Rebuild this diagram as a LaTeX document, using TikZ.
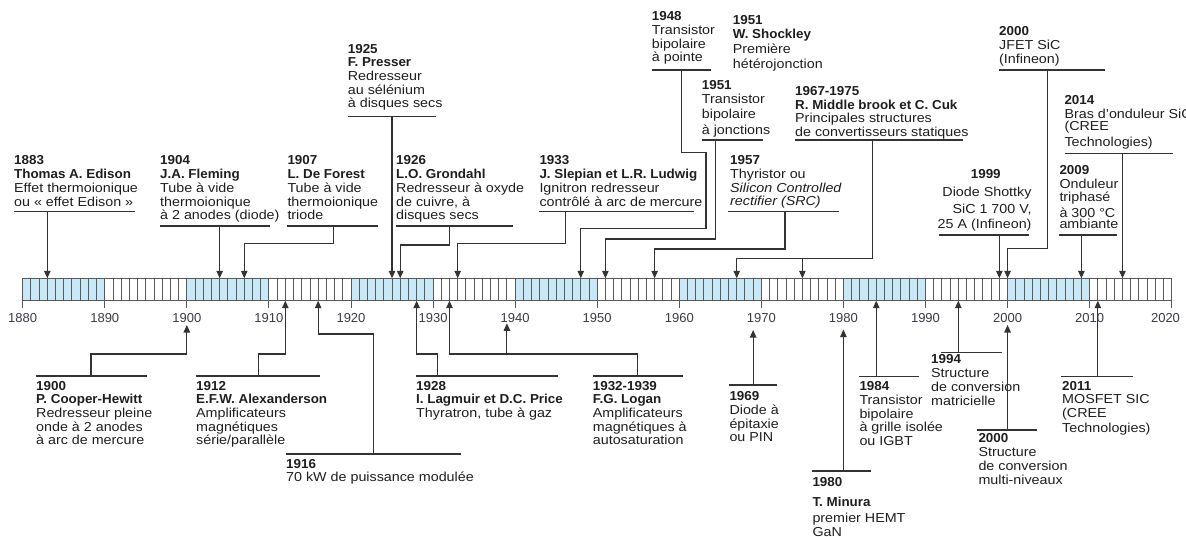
\documentclass[tikz,border=0pt]{standalone}
\usepackage{fontspec}
\setmainfont{Liberation Sans}[FakeStretch=1.10, BoldFont={Liberation Sans Bold}, BoldFeatures={FakeStretch=1.03}]
\newfontfamily\yrfont{Liberation Sans}
\usetikzlibrary{arrows.meta}
\definecolor{barfill}{HTML}{C8E8F8}
\definecolor{barline}{HTML}{5A5A5A}
\definecolor{linec}{HTML}{333333}
\definecolor{txt}{HTML}{1E1E1E}
\definecolor{yrc}{HTML}{3A3A48}
\newcommand\lblfont{\fontsize{13}{13.7}\selectfont}
\newcommand\X[1]{{22.7+(#1-1880)*8.2071}}
\tikzset{
  lbl/.style={anchor=base west, align=left, inner sep=0pt, font=\lblfont, text=txt},
  lblr/.style={anchor=base east, align=right, inner sep=0pt, font=\lblfont, text=txt},
  yrlbl/.style={anchor=base, inner sep=0pt, font=\yrfont\fontsize{13}{14}\selectfont, text=yrc},
  rulel/.style={draw=linec, line width=1.05pt},
  conn/.style={draw=linec, line width=1.05pt, -{Triangle[length=7.5pt,width=6.5pt]}},
  cell/.style={draw=barline, line width=0.9pt},
}
\begin{document}
\begin{tikzpicture}[x=1pt,y=-1pt]
\useasboundingbox (0,0) rectangle (1186,537);
% ---------- bar ----------
\foreach \d in {1880,1900,...,2000}{
  \fill[barfill] (\X{\d},278.3) rectangle (\X{\d+10},300.7);
}
\foreach \y in {1881,...,2019}{
  \draw[cell] (\X{\y},278.3) -- (\X{\y},300.7);
}
\foreach \d in {1880,1890,...,2010}{
  \draw[cell] (\X{\d},278.3) -- (\X{\d},308.3);
  \node[yrlbl] (yl\d) at (\X{\d},322.3) {\d};
}
\draw[cell] (\X{2020},278.3) -- (\X{2020},308.3);
\node[yrlbl] (yl2020) at (1165.5,322.3) {2020};
\draw[cell] (\X{1880},278.3) rectangle (\X{2020},300.7);

% ---------- top labels (anchored at last baseline) ----------
\node[lbl] (e1883) at (14,206.1) {\textbf{1883}\\\textbf{Thomas A. Edison}\\Effet thermoionique\\ou « effet Edison »};
\node[lbl] (e1904) at (160,219.8) {\textbf{1904}\\\textbf{J.A. Fleming}\\Tube à vide\\thermoionique\\à 2 anodes (diode)};
\node[lbl] (e1907) at (287.3,219.8) {\textbf{1907}\\\textbf{L. De Forest}\\Tube à vide\\thermoionique\\triode};
\node[lbl] (e1925) at (347.7,108) {\textbf{1925}\\\textbf{F. Presser}\\Redresseur\\au sélénium\\à disques secs};
\node[lbl] (e1926) at (396,219.8) {\textbf{1926}\\\textbf{L.O. Grondahl}\\Redresseur à oxyde\\de cuivre, à\\disques secs};
\node[lbl] (e1933) at (539.3,206.1) {\textbf{1933}\\\textbf{J. Slepian et L.R. Ludwig}\\Ignitron redresseur\\contrôlé à arc de mercure};
\node[lbl] (e1948) at (651.7,61.8) {\textbf{1948}\\Transistor\\bipolaire\\à pointe};
\node[lbl] (e1951s) at (732.7,68.3) {\textbf{1951}\\\textbf{W. Shockley}\\[1.1pt]Première\\[1.1pt]hétérojonction};
\node[lbl] (e1951t) at (701.7,134.3) {\textbf{1951}\\[0.3pt]Transistor\\[1.9pt]bipolaire\\[1.6pt]à jonctions};
\node[lbl] (e1957) at (730,205.8) {\textbf{1957}\\Thyristor ou\\\textit{Silicon Controlled}\\\textit{rectifier (SRC)}};
\node[lbl] (e1967) at (795,136.7) {\textbf{1967-1975}\\\textbf{R. Middle brook et C. Cuk}\\Principales structures\\de convertisseurs statiques};
\node[lbl] (e2000j) at (999,63.3) {\textbf{2000}\\JFET SiC\\(Infineon)};
\node[lbl] (e2014) at (1064.3,146.5) {\textbf{2014}\\Bras d’onduleur SiC\\[-1.9pt](CREE\\[2.3pt]Technologies)};
\node[lbl] (e1999y) at (970.7,178.3) {\textbf{1999}};
\node[lblr] (e1999) at (1031.7,228.3) {Diode Shottky\\[3.3pt]SiC 1 700 V,\\[0.9pt]25 A (Infineon)};
\node[lbl] (e2009) at (1059.3,228.5) {\textbf{2009}\\Onduleur\\triphasé\\[1.8pt]à 300 °C\\[-2.7pt]ambiante};

% ---------- bottom labels ----------
\node[lbl] (e1900) at (36,444.8) {\textbf{1900}\\\textbf{P. Cooper-Hewitt}\\Redresseur pleine\\onde à 2 anodes\\à arc de mercure};
\node[lbl] (e1912) at (196,444.8) {\textbf{1912}\\\textbf{E.F.W. Alexanderson}\\Amplificateurs\\magnétiques\\série/parallèle};
\node[lbl] (e1916) at (286,481.7) {\textbf{1916}\\70 kW de puissance modulée};
\node[lbl] (e1928) at (416,417.4) {\textbf{1928}\\\textbf{I. Lagmuir et D.C. Price}\\Thyratron, tube à gaz};
\node[lbl] (e1932) at (592.7,444.8) {\textbf{1932-1939}\\\textbf{F.G. Logan}\\Amplificateurs\\magnétiques à\\autosaturation};
\node[lbl] (e1969) at (729.3,441.7) {\textbf{1969}\\Diode à\\épitaxie\\ou PIN};
\node[lbl] (e1980) at (812.3,536.7) {\textbf{1980}\\[6.3pt]\textbf{T. Minura}\\[2.3pt]premier HEMT\\[0.3pt]GaN};
\node[lbl] (e1984) at (859.3,445.5) {\textbf{1984}\\Transistor\\bipolaire\\à grille isolée\\ou IGBT};
\node[lbl] (e1994) at (931,405) {\textbf{1994}\\Structure\\de conversion\\matricielle};
\node[lbl] (e2000m) at (978.3,484) {\textbf{2000}\\Structure\\de conversion\\multi-niveaux};
\node[lbl] (e2011) at (1062,432.7) {\textbf{2011}\\MOSFET SIC\\(CREE\\[1.6pt]Technologies)};

% ---------- rules (under/over lines) ----------
\draw[rulel] (14,211.7) -- (135,211.7);
\draw[rulel] (160,226) -- (270,226);
\draw[rulel] (287.3,226) -- (377.7,226);
\draw[rulel] (347.7,116.7) -- (435.7,116.7);
\draw[rulel] (396,226) -- (513.3,226);
\draw[rulel] (539.3,211.7) -- (694.3,211.7);
\draw[rulel] (651.7,70) -- (711,70);
\draw[rulel] (701.7,140) -- (763.3,140);
\draw[rulel] (728.3,211.7) -- (839.3,211.7);
\draw[rulel] (795,140) -- (963.3,140);
\draw[rulel] (999,70) -- (1105,70);
\draw[rulel] (1065,153.3) -- (1173.3,153.3);
\draw[rulel] (939.3,235) -- (1029,235);
\draw[rulel] (1059,235) -- (1117.3,235);
\draw[rulel] (36,376) -- (146.7,376);
\draw[rulel] (196,376) -- (320,376);
\draw[rulel] (286,454) -- (461,454);
\draw[rulel] (416,376) -- (558.3,376);
\draw[rulel] (592.7,376) -- (683.3,376);
\draw[rulel] (729.3,385) -- (776.7,385);
\draw[rulel] (812.3,471) -- (871,471);
\draw[rulel] (859.3,376.7) -- (919.3,376.7);
\draw[rulel] (941,352.3) -- (1001.7,352.3);
\draw[rulel] (977.3,430) -- (1037.3,430);
\draw[rulel] (1061,376.7) -- (1133.3,376.7);

% ---------- connector anchors ----------
\coordinate (u1883) at (\X{1883},211.7);  \coordinate (a1883) at (\X{1883},278.3);
\coordinate (u1904) at (\X{1904},226);    \coordinate (a1904) at (\X{1904},278.3);
\coordinate (u1907) at (333.3,226);       \coordinate (a1907) at (\X{1907},278.3);
\coordinate (u1925) at (\X{1925},116.7);  \coordinate (a1925) at (\X{1925},278.3);
\coordinate (u1926) at (449.3,226);       \coordinate (a1926) at (\X{1926},278.3);
\coordinate (u1933) at (565.7,211.7);     \coordinate (a1933) at (\X{1933},278.3);
\coordinate (u1948) at (681.7,70);        \coordinate (a1948) at (\X{1948},278.3);
\coordinate (u1951) at (715.7,140);       \coordinate (a1951) at (\X{1951},278.3);
\coordinate (u1957) at (785,211.7);       \coordinate (a1957) at (\X{1957},278.3);
\coordinate (u1967) at (872.7,140);       \coordinate (a1967) at (\X{1967},278.3);
\coordinate (j1975) at (\X{1975},258.3);  \coordinate (a1975) at (\X{1975},278.3);
\coordinate (u1999) at (\X{1999},235);    \coordinate (a1999) at (\X{1999},278.3);
\coordinate (u2000j) at (1047.7,70);      \coordinate (a2000j) at (\X{2000},278.3);
\coordinate (u2009) at (\X{2009},235);    \coordinate (a2009) at (\X{2009},278.3);
\coordinate (u2014) at (\X{2014},153.3);  \coordinate (a2014) at (\X{2014},278.3);

\coordinate (u1900) at (91,376);          \coordinate (a1900) at (\X{1900},325);
\coordinate (u1912) at (258.3,376);       \coordinate (a1912) at (\X{1912},300.7);
\coordinate (u1916) at (373.3,454);       \coordinate (a1916) at (\X{1916},300.7);
\coordinate (u1928) at (437.3,376);       \coordinate (a1928) at (\X{1928},300.7);
\coordinate (u1932) at (637.3,376);       \coordinate (a1932) at (\X{1932},300.7);
\coordinate (j1939) at (\X{1939},354);    \coordinate (a1939) at (\X{1939},323.3);
\coordinate (u1969) at (\X{1969},385);    \coordinate (a1969) at (\X{1969},330);
\coordinate (u1980) at (\X{1980},471);    \coordinate (a1980) at (\X{1980},329.5);
\coordinate (u1984) at (\X{1984},376.7);  \coordinate (a1984) at (\X{1984},300.7);
\coordinate (u1994) at (\X{1994},352.3);  \coordinate (a1994) at (\X{1994},300.7);
\coordinate (u2000m) at (\X{2000},430);   \coordinate (a2000m) at (\X{2000},325);
\coordinate (u2011) at (\X{2011},376.7);  \coordinate (a2011) at (\X{2011},300.7);

% ---------- connectors (top) ----------
\draw[conn] (u1883) -- (a1883);
\draw[conn] (u1904) -- (a1904);
\draw[conn] (u1907) |- (\X{1907},243.3) -- (a1907);
\draw[conn] (u1925) -- (a1925);
\draw[conn] (u1926) |- (\X{1926},245) -- (a1926);
\draw[conn] (u1933) |- (\X{1933},243.3) -- (a1933);
\draw[conn] (u1948) |- (706,152.3) |- (\X{1948},228.3) -- (a1948);
\draw[conn] (u1951) |- (\X{1951},239) -- (a1951);
\draw[conn] (u1957) |- (\X{1957},249) -- (a1957);
\draw[conn] (u1967) |- (\X{1967},258.3) -- (a1967);
\draw[conn] (j1975) -- (a1975);
\draw[conn] (u1999) -- (a1999);
\draw[conn] (u2000j) |- (\X{2000},248.3) -- (a2000j);
\draw[conn] (u2009) -- (a2009);
\draw[conn] (u2014) -- (a2014);

% ---------- connectors (bottom) ----------
\draw[conn] (u1900) |- (\X{1900},354) -- (a1900);
\draw[conn] (u1912) |- (\X{1912},354) -- (a1912);
\draw[conn] (u1916) |- (\X{1916},334) -- (a1916);
\draw[conn] (u1928) |- (\X{1928},354) -- (a1928);
\draw[conn] (u1932) |- (\X{1932},354) -- (a1932);
\draw[conn] (j1939) -- (a1939);
\draw[conn] (u1969) -- (a1969);
\draw[conn] (u1980) -- (a1980);
\draw[conn] (u1984) -- (a1984);
\draw[conn] (u1994) -- (a1994);
\draw[conn] (u2000m) -- (a2000m);
\draw[conn] (u2011) -- (a2011);
\end{tikzpicture}
\end{document}
